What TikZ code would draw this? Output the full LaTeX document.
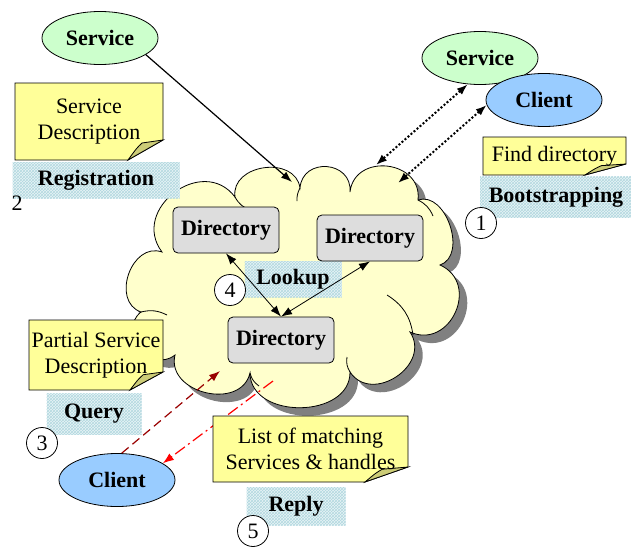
\documentclass[tikz,border=0pt]{standalone}
\usepackage{fontspec}
\setmainfont{Liberation Serif}
\usetikzlibrary{shapes.geometric,patterns,arrows.meta,calc}

\definecolor{servicegreen}{RGB}{204,255,204}
\definecolor{clientblue}{RGB}{153,204,255}
\definecolor{noteyellow}{RGB}{255,255,153}
\definecolor{noteflap}{RGB}{204,204,119}
\definecolor{cloudyellow}{RGB}{255,255,204}
\definecolor{dirgray}{RGB}{221,221,221}
\definecolor{shadowgray}{RGB}{128,128,128}
\definecolor{tagbg}{RGB}{232,244,246}
\definecolor{tagline}{RGB}{178,216,224}
\definecolor{querycol}{RGB}{153,0,0}

\newcommand{\basefont}{\fontsize{22}{26}\selectfont}

% outline of the directory network, puff by puff, clockwise (y upwards)
\newcommand{\netoutline}{(162,-252) to[bend left=90,looseness=1.5] (235,-197)
  to[bend left=90,looseness=1.3] (300,-188) to[bend left=90,looseness=1.6] (350,-192)
  to[bend left=90,looseness=1.5] (418,-200) to[bend left=90,looseness=1.1] (440,-265)
  to[bend left=90,looseness=1.55] (410,-332) to[bend left=90,looseness=1.4] (350,-372)
  to[bend left=90,looseness=1.2] (250,-373) to[bend left=90,looseness=1.3] (175,-355)
  to[bend left=90,looseness=1.45] (141,-312) to[bend left=90,looseness=1.3] cycle}

% sticky note: name, top left, bottom right, fold width, fold height, text
\newcommand{\stickynote}[6]{%
  \path #2 coordinate (#1-nw) #3 coordinate (#1-se);
  \filldraw[fill=noteyellow] (#1-nw) -| ($(#1-se)+(0,-#5)$)
    -- ($(#1-se)+(-#4,0)$) -| (#1-nw) -- cycle;
  \filldraw[fill=noteflap] ($(#1-se)+(-#4,0)$)
    .. controls ($(#1-se)+(-#4*0.75,-#5*0.6)$) .. ($(#1-se)+(-#4*0.6,-#5*0.85)$)
    -- ($(#1-se)+(0,-#5)$) -- cycle;
  \node[align=center, font=\basefont] (#1) at ($(#1-nw)!0.5!(#1-se)$) {#6};
}

\tikzset{
  svc/.style={ellipse, draw, fill=servicegreen, minimum width=116pt,
    minimum height=53pt, inner sep=0pt, font=\basefont\bfseries},
  cli/.style={svc, fill=clientblue},
  dir/.style={rectangle, rounded corners=5pt, draw, fill=dirgray,
    minimum width=106pt, minimum height=46pt, font=\basefont\bfseries},
  tag/.style={rectangle, preaction={fill=tagbg}, pattern=crosshatch,
    pattern color=tagline, font=\basefont\bfseries},
  num/.style={circle, draw, fill=white, minimum size=31pt, inner sep=0pt,
    font=\basefont},
}

\begin{document}
\begin{tikzpicture}[x=1pt,y=-1pt,line width=0.8pt,>={Latex[length=11pt,width=8pt]}]
  \useasboundingbox (0,0) rectangle (631,546);

  \begin{scope}[y=1pt]
    \begin{scope}
      % shadow only to the right and below
      \clip (0,-205) -- (415,-205) -- (415,0) -- (631,0) -- (631,-546) -- (0,-546) -- cycle;
      \fill[shadowgray, shift={(8,-8)}] \netoutline;
    \end{scope}
    \filldraw[fill=cloudyellow] \netoutline;
    \draw (235,-197) to[bend right=20] (250,-210);
    \draw (300,-188) to[bend right=15] (297,-201);
    \draw (418,-200) to[bend left=20] (433,-216);
    \draw (387,-295) to[bend left=25] (413,-335);
    \draw (350,-372) to[bend left=20] (347,-357);
    \draw (250,-373) to[bend right=20] (259,-386);
    \draw (141,-312) to[bend left=20] (167,-315);
  \end{scope}

  \node[tag, minimum width=167pt, minimum height=36pt] (registration) at (96,180) {Registration};
  \node[tag, minimum width=152pt, minimum height=41pt] (bootstrapping) at (556,197) {Bootstrapping};
  \node[tag, minimum width=95pt, minimum height=41pt] (query) at (94,414) {Query};
  \node[tag, minimum width=97pt, minimum height=36pt] (lookup) at (293,279) {Lookup};
  \node[tag, minimum width=99pt, minimum height=38pt] (reply) at (296,506) {Reply};

  \node[dir] (dir1) at (226,230) {Directory};
  \node[dir] (dir2) at (370,238) {Directory};
  \node[dir] (dir3) at (281,340) {Directory};

  \draw[<->] (dir1.south) -- (dir3.north);
  \draw[<->] (dir2.south) -- (dir3.north);

  \node[num] (step1) at (481,223) {1};
  \node[font=\basefont] (step2) at (17,203) {2};
  \node[num] (step3) at (42,443) {3};
  \node[num] (step4) at (230,290) {4};
  \node[num] (step5) at (253,531) {5};

  \node[svc] (service1) at (100,38) {Service};
  \node[svc] (service2) at (480,58) {Service};
  \node[cli] (client1) at (544,100) {Client};
  \node[cli] (client2) at (117,480) {Client};

  \coordinate (regin) at (292,182);
  \coordinate (bootin1) at (376,165);
  \coordinate (bootin2) at (398,183);
  \coordinate (queryin) at (220,371);
  \coordinate (replyout) at (273,381);

  \draw[->, line width=1.2pt] (service1.-20) -- (regin);
  \draw[<->, line width=2pt, dotted] (service2.-115) -- (bootin1);
  \draw[<->, line width=2pt, dotted] (client1.185) -- (bootin2);
  \draw[->, line width=1.2pt, querycol, dash pattern=on 9pt off 5pt] (client2.80) -- (queryin);
  \draw[->, line width=1.2pt, red, dash pattern=on 12pt off 4pt on 2pt off 4pt] (replyout) -- (client2.20);

  \stickynote{servdesc}{(15,83)}{(163,160)}{35}{20}{Service\\Description}
  \stickynote{finddir}{(483,137)}{(626,175)}{41}{11}{Find directory}
  \stickynote{partdesc}{(29,320)}{(163,390)}{33}{18}{Partial Service\\Description}
  \stickynote{matches}{(213,416)}{(408,482)}{43}{15}{List of matching\\Services \& handles}
\end{tikzpicture}
\end{document}
